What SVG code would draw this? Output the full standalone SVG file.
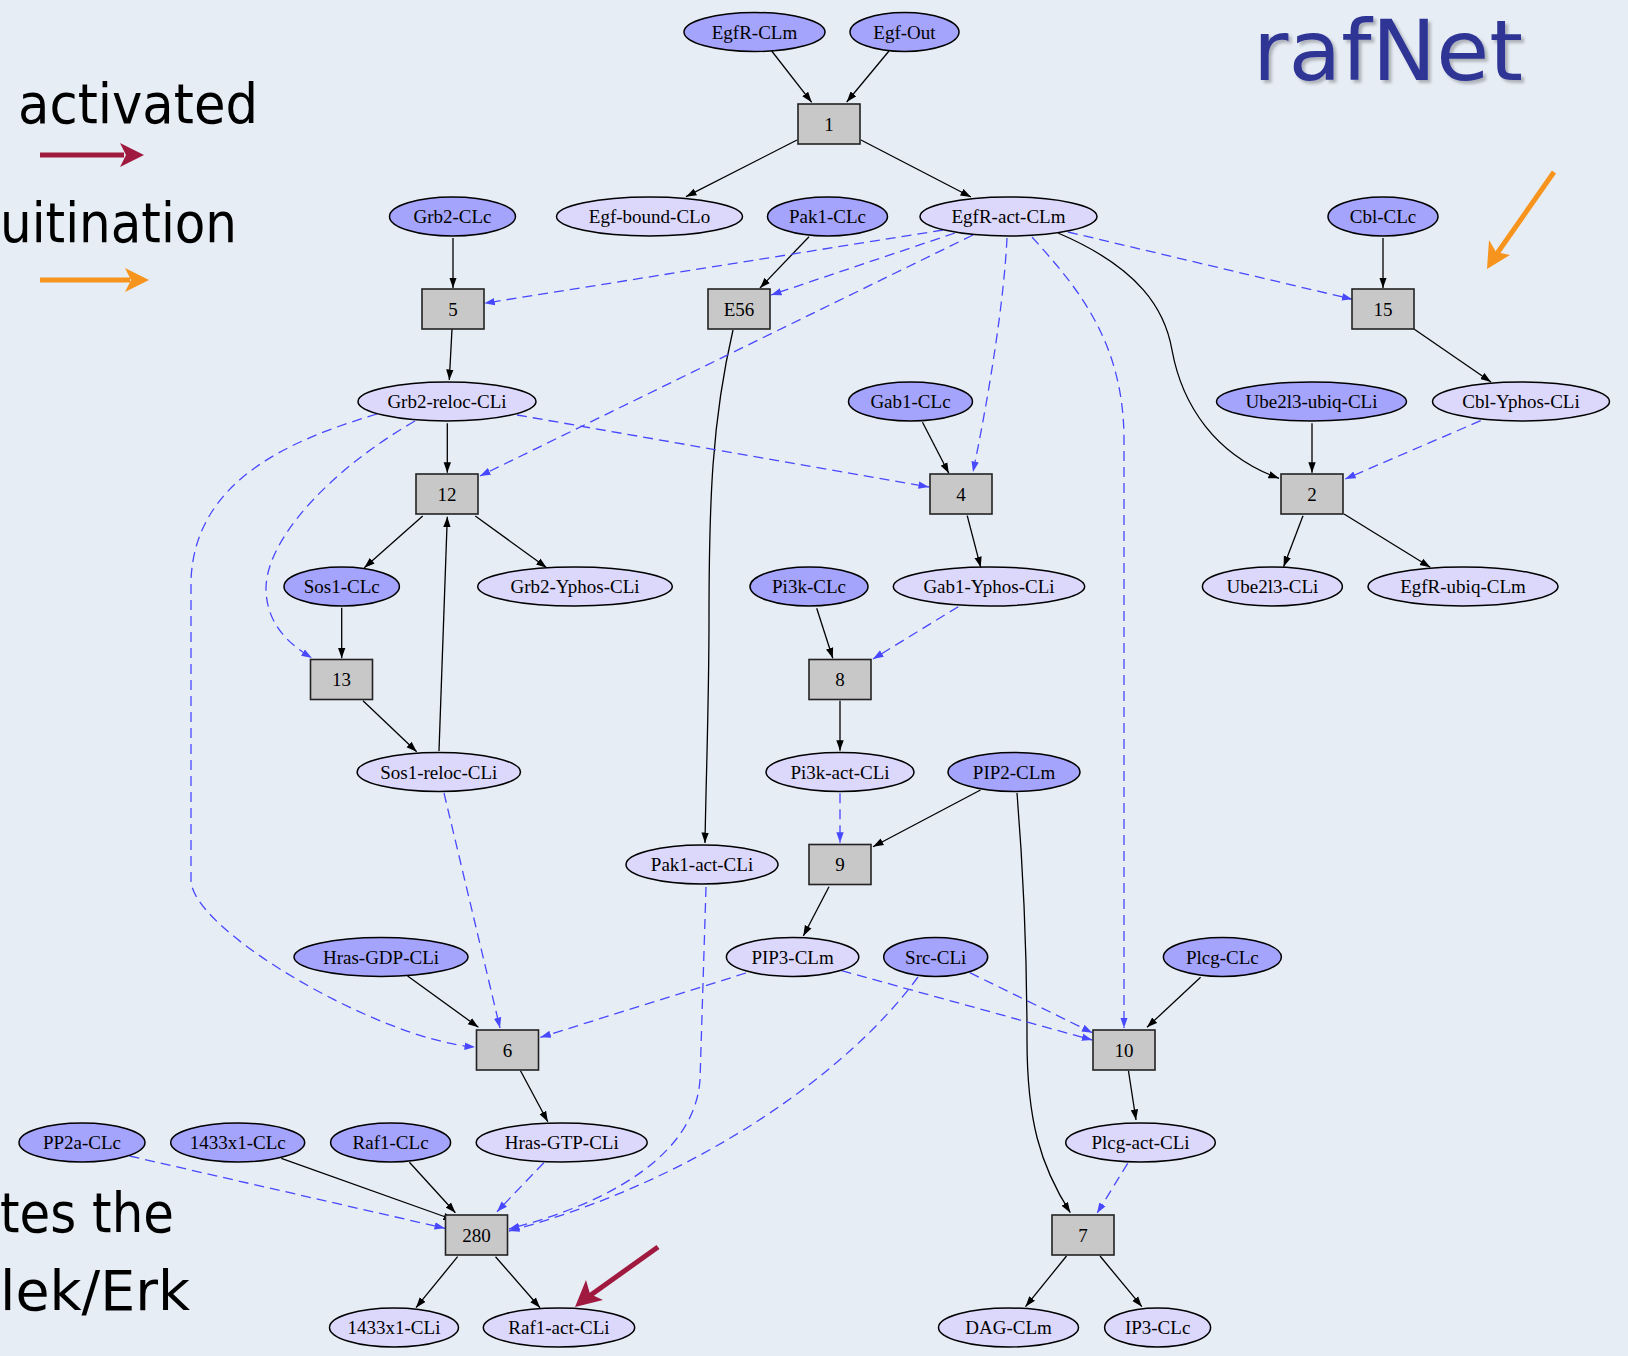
<svg xmlns="http://www.w3.org/2000/svg" width="1628" height="1356" viewBox="0 0 1628 1356">
<defs>
<marker id="ab" markerUnits="userSpaceOnUse" markerWidth="12" markerHeight="9" refX="10.5" refY="4" orient="auto"><path d="M0,0.3 L10.5,4 L0,7.7 z" fill="#000"/></marker>
<marker id="au" markerUnits="userSpaceOnUse" markerWidth="12" markerHeight="9" refX="10.5" refY="4" orient="auto"><path d="M0,0.3 L10.5,4 L0,7.7 z" fill="#4848ff"/></marker>
<filter id="sh" x="-5%" y="-5%" width="115%" height="120%"><feDropShadow dx="3" dy="3" stdDeviation="1.5" flood-color="#000" flood-opacity="0.25"/></filter>
<style>
.e ellipse{stroke:#000;stroke-width:1.5}
.dk ellipse{fill:#a4a4fc}
.lt ellipse{fill:#dcd8fc}
.b rect{fill:#c8c8c8;stroke:#222;stroke-width:1.6}
.e text,.b text{font-family:"Liberation Serif","Times New Roman",serif;font-size:19px;fill:#000;text-anchor:middle}
.s{fill:none;stroke:#000;stroke-width:1.3;marker-end:url(#ab)}
.d{fill:none;stroke:#4848ff;stroke-width:1.3;stroke-dasharray:10,6;marker-end:url(#au)}
.big{font-family:"Comic Sans MS","DejaVu Sans",sans-serif;font-size:56px;fill:#000}
</style>
</defs>
<rect width="1628" height="1356" fill="#e7edf5"/>

<g id="legend">
<text class="big" x="18" y="123" textLength="240" lengthAdjust="spacingAndGlyphs">activated</text>
<line x1="40" y1="155" x2="124" y2="155" stroke="#a01a40" stroke-width="5"/>
<polygon points="120,143 144,155 120,167 126,155" fill="#a01a40"/>
<text class="big" x="0" y="242" textLength="237" lengthAdjust="spacingAndGlyphs">uitination</text>
<line x1="40" y1="280" x2="130" y2="280" stroke="#f7941d" stroke-width="5"/>
<polygon points="125,268 149,280 125,292 131,280" fill="#f7941d"/>
<text class="big" x="0" y="1232" textLength="174" lengthAdjust="spacingAndGlyphs">tes the</text>
<text class="big" x="0" y="1310" textLength="190" lengthAdjust="spacingAndGlyphs">lek/Erk</text>
</g>
<g id="title">
<text x="1253" y="80" font-family="'Comic Sans MS','DejaVu Sans',sans-serif" font-size="84" fill="#2e3494" filter="url(#sh)" textLength="270" lengthAdjust="spacingAndGlyphs">rafNet</text>
</g>
<g id="callouts">
<line x1="1554" y1="172" x2="1496" y2="255" stroke="#f7941d" stroke-width="5"/>
<polygon points="1487,269 1489,240 1496,252 1510,255" fill="#f7941d"/>
<line x1="658" y1="1247" x2="588" y2="1297" stroke="#a01a40" stroke-width="5"/>
<polygon points="575,1307 586,1280 590,1294 603,1300" fill="#a01a40"/>
</g>

<g id="connectors">
<path class="s" d="M771.7,51 L811.7,102.3"/>
<path class="s" d="M889,51 L846.7,102"/>
<path class="s" d="M797,140 L686,196.7"/>
<path class="s" d="M861,140 L971,197"/>
<path class="s" d="M453,238 L453,288"/>
<path class="s" d="M809,236.7 L760,288"/>
<path class="s" d="M1383,238 L1383,288"/>
<path class="s" d="M452,329 L449.3,380"/>
<path class="s" d="M733,330 C712,420 709,500 709,620 C709,700 706,780 705,843"/>
<path class="s" d="M447.3,423.3 L447.3,472.7"/>
<path class="s" d="M422.7,516 L364.3,567.7"/>
<path class="s" d="M475.3,516 L546.7,567.7"/>
<path class="s" d="M341.7,607.7 L341.7,658.3"/>
<path class="s" d="M363,700.7 L416.7,751.7"/>
<path class="s" d="M439,751 L447.3,516.7"/>
<path class="s" d="M922.5,422.3 L948.8,473.3"/>
<path class="s" d="M967.2,515.7 L980.7,567.3"/>
<path class="s" d="M1058,233 C1140,268 1165,310 1172,350 C1182,405 1215,455 1279,478.3"/>
<path class="s" d="M1312,423.3 L1312,472.7"/>
<path class="s" d="M1414,329 L1491,382"/>
<path class="s" d="M1303,515.7 L1283.6,566.7"/>
<path class="s" d="M1344,514 L1430.3,567.3"/>
<path class="s" d="M816.7,608.3 L832.8,658.3"/>
<path class="s" d="M840,700.7 L840,750.7"/>
<path class="s" d="M980.5,790 L873,846.7"/>
<path class="s" d="M829,886.7 L803.3,936"/>
<path class="s" d="M1017,793 C1024,880 1027,960 1027,1040 C1027,1120 1040,1165 1070.3,1212.7"/>
<path class="s" d="M1200.6,977.3 L1147,1027.3"/>
<path class="s" d="M1128.5,1071 L1136,1120"/>
<path class="s" d="M1066.5,1256 L1025.5,1306.7"/>
<path class="s" d="M1100,1256 L1141.9,1306.7"/>
<path class="s" d="M407.6,976 L478.4,1027.3"/>
<path class="s" d="M520.5,1070.7 L547.8,1121.7"/>
<path class="s" d="M281.3,1158.3 L454,1220"/>
<path class="s" d="M409.4,1162.3 L455.4,1212.7"/>
<path class="s" d="M457.6,1256.7 L416,1307.7"/>
<path class="s" d="M495.5,1256.7 L540,1307.7"/>

<path class="d" d="M943,230 L484.3,303.3"/>
<path class="d" d="M955,233 L771,295"/>
<path class="d" d="M973,235 L480,476"/>
<path class="d" d="M1007,238 C1004,300 990,390 973,472"/>
<path class="d" d="M1032,237 C1075,285 1124,340 1124,440 L1124,1028"/>
<path class="d" d="M1068,232 L1352.4,299.3"/>
<path class="d" d="M517,415 L929,487"/>
<path class="d" d="M377,414 C290,440 195,480 191,580 L191,880 C191,930 380,1040 475,1047"/>
<path class="d" d="M415,421 C330,470 265,540 266,590 C267,625 290,645 312,658"/>
<path class="d" d="M444,793 L500,1028"/>
<path class="d" d="M746,973 L540.4,1037.3"/>
<path class="d" d="M841.6,970.7 L1092.3,1040"/>
<path class="d" d="M969.8,972.7 L1092.3,1032.7"/>
<path class="d" d="M918,977 C850,1070 700,1180 509,1231"/>
<path class="d" d="M706,887 L700,1080 C695,1150 620,1200 509,1229"/>
<path class="d" d="M543.8,1162.7 L497,1211.7"/>
<path class="d" d="M129.5,1156 L445,1228.3"/>
<path class="d" d="M1480.7,420.7 L1345.2,479"/>
<path class="d" d="M958.3,606.7 L873,659"/>
<path class="d" d="M840,793.3 L840,842.7"/>
<path class="d" d="M1127.7,1163.3 L1097,1213.3"/>
</g>

<g id="n-EgfR-CLm" class="e dk"><ellipse cx="754.5" cy="32" rx="70.5" ry="19.5"/><text x="754.5" y="38.5">EgfR-CLm</text></g>
<g id="n-Egf-Out" class="e dk"><ellipse cx="904.5" cy="32" rx="54.5" ry="19.5"/><text x="904.5" y="38.5">Egf-Out</text></g>
<g id="r-1" class="b"><rect x="798" y="104" width="62" height="40"/><text x="829" y="130.5">1</text></g>

<g id="n-Grb2-CLc" class="e dk"><ellipse cx="452.5" cy="216.5" rx="63" ry="19.5"/><text x="452.5" y="223">Grb2-CLc</text></g>
<g id="n-Egf-bound-CLo" class="e lt"><ellipse cx="649.5" cy="216.5" rx="93" ry="19.5"/><text x="649.5" y="223">Egf-bound-CLo</text></g>
<g id="n-Pak1-CLc" class="e dk"><ellipse cx="827.5" cy="216.5" rx="60" ry="19.5"/><text x="827.5" y="223">Pak1-CLc</text></g>
<g id="n-EgfR-act-CLm" class="e lt"><ellipse cx="1008.5" cy="216.5" rx="88.5" ry="19.5"/><text x="1008.5" y="223">EgfR-act-CLm</text></g>
<g id="n-Cbl-CLc" class="e dk"><ellipse cx="1383" cy="216.5" rx="55" ry="19.5"/><text x="1383" y="223">Cbl-CLc</text></g>

<g id="r-5" class="b"><rect x="422" y="289" width="62" height="40"/><text x="453" y="315.5">5</text></g>
<g id="r-E56" class="b"><rect x="708" y="289" width="62" height="40"/><text x="739" y="315.5">E56</text></g>
<g id="r-15" class="b"><rect x="1352" y="289" width="62" height="40"/><text x="1383" y="315.5">15</text></g>

<g id="n-Grb2-reloc-CLi" class="e lt"><ellipse cx="447" cy="401.5" rx="89" ry="19.5"/><text x="447" y="408">Grb2-reloc-CLi</text></g>
<g id="n-Gab1-CLc" class="e dk"><ellipse cx="910.5" cy="401.5" rx="62" ry="19.5"/><text x="910.5" y="408">Gab1-CLc</text></g>
<g id="n-Ube2l3-ubiq-CLi" class="e dk"><ellipse cx="1311.5" cy="401.5" rx="95" ry="19.5"/><text x="1311.5" y="408">Ube2l3-ubiq-CLi</text></g>
<g id="n-Cbl-Yphos-CLi" class="e lt"><ellipse cx="1521" cy="401.5" rx="88.5" ry="19.5"/><text x="1521" y="408">Cbl-Yphos-CLi</text></g>

<g id="r-12" class="b"><rect x="416" y="474" width="62" height="40"/><text x="447" y="500.5">12</text></g>
<g id="r-4" class="b"><rect x="930" y="474" width="62" height="40"/><text x="961" y="500.5">4</text></g>
<g id="r-2" class="b"><rect x="1281" y="474" width="62" height="40"/><text x="1312" y="500.5">2</text></g>

<g id="n-Sos1-CLc" class="e dk"><ellipse cx="341.7" cy="586.5" rx="57.7" ry="19.5"/><text x="341.7" y="593">Sos1-CLc</text></g>
<g id="n-Grb2-Yphos-CLi" class="e lt"><ellipse cx="575" cy="586.5" rx="97.3" ry="19.5"/><text x="575" y="593">Grb2-Yphos-CLi</text></g>
<g id="n-Pi3k-CLc" class="e dk"><ellipse cx="809" cy="586.5" rx="59" ry="19.5"/><text x="809" y="593">Pi3k-CLc</text></g>
<g id="n-Gab1-Yphos-CLi" class="e lt"><ellipse cx="989" cy="586.5" rx="95.7" ry="19.5"/><text x="989" y="593">Gab1-Yphos-CLi</text></g>
<g id="n-Ube2l3-CLi" class="e lt"><ellipse cx="1272.4" cy="586.5" rx="70" ry="19.5"/><text x="1272.4" y="593">Ube2l3-CLi</text></g>
<g id="n-EgfR-ubiq-CLm" class="e lt"><ellipse cx="1463" cy="586.5" rx="95" ry="19.5"/><text x="1463" y="593">EgfR-ubiq-CLm</text></g>

<g id="r-13" class="b"><rect x="310.5" y="659.5" width="62" height="40"/><text x="341.5" y="686">13</text></g>
<g id="r-8" class="b"><rect x="809" y="659.5" width="62" height="40"/><text x="840" y="686">8</text></g>

<g id="n-Sos1-reloc-CLi" class="e lt"><ellipse cx="438.8" cy="772" rx="81.7" ry="19.5"/><text x="438.8" y="778.5">Sos1-reloc-CLi</text></g>
<g id="n-Pi3k-act-CLi" class="e lt"><ellipse cx="840" cy="772" rx="74" ry="19.5"/><text x="840" y="778.5">Pi3k-act-CLi</text></g>
<g id="n-PIP2-CLm" class="e dk"><ellipse cx="1014" cy="772" rx="66" ry="19.5"/><text x="1014" y="778.5">PIP2-CLm</text></g>

<g id="n-Pak1-act-CLi" class="e lt"><ellipse cx="702" cy="864.5" rx="76" ry="19.5"/><text x="702" y="871">Pak1-act-CLi</text></g>
<g id="r-9" class="b"><rect x="809" y="844.5" width="62" height="40"/><text x="840" y="871">9</text></g>

<g id="n-Hras-GDP-CLi" class="e dk"><ellipse cx="381" cy="957" rx="87" ry="19.5"/><text x="381" y="963.5">Hras-GDP-CLi</text></g>
<g id="n-PIP3-CLm" class="e lt"><ellipse cx="792.6" cy="957" rx="66.2" ry="19.5"/><text x="792.6" y="963.5">PIP3-CLm</text></g>
<g id="n-Src-CLi" class="e dk"><ellipse cx="935.7" cy="957" rx="52" ry="19.5"/><text x="935.7" y="963.5">Src-CLi</text></g>
<g id="n-Plcg-CLc" class="e dk"><ellipse cx="1222.4" cy="957" rx="59" ry="19.5"/><text x="1222.4" y="963.5">Plcg-CLc</text></g>

<g id="r-6" class="b"><rect x="476.5" y="1030" width="62" height="40"/><text x="507.5" y="1056.5">6</text></g>
<g id="r-10" class="b"><rect x="1093" y="1030" width="62" height="40"/><text x="1124" y="1056.5">10</text></g>

<g id="n-PP2a-CLc" class="e dk"><ellipse cx="82" cy="1142.5" rx="63" ry="19.5"/><text x="82" y="1149">PP2a-CLc</text></g>
<g id="n-1433x1-CLc" class="e dk"><ellipse cx="237.7" cy="1142.5" rx="67" ry="19.5"/><text x="237.7" y="1149">1433x1-CLc</text></g>
<g id="n-Raf1-CLc" class="e dk"><ellipse cx="390.6" cy="1142.5" rx="60" ry="19.5"/><text x="390.6" y="1149">Raf1-CLc</text></g>
<g id="n-Hras-GTP-CLi" class="e lt"><ellipse cx="561.7" cy="1142.5" rx="85.5" ry="19.5"/><text x="561.7" y="1149">Hras-GTP-CLi</text></g>
<g id="n-Plcg-act-CLi" class="e lt"><ellipse cx="1140.5" cy="1142.5" rx="74.8" ry="19.5"/><text x="1140.5" y="1149">Plcg-act-CLi</text></g>

<g id="r-280" class="b"><rect x="445.5" y="1215" width="62" height="40"/><text x="476.5" y="1241.5">280</text></g>
<g id="r-7" class="b"><rect x="1052" y="1215" width="62" height="40"/><text x="1083" y="1241.5">7</text></g>

<g id="n-1433x1-CLi" class="e lt"><ellipse cx="394" cy="1327.5" rx="64.5" ry="19.5"/><text x="394" y="1334">1433x1-CLi</text></g>
<g id="n-Raf1-act-CLi" class="e lt"><ellipse cx="559" cy="1327.5" rx="75.7" ry="19.5"/><text x="559" y="1334">Raf1-act-CLi</text></g>
<g id="n-DAG-CLm" class="e lt"><ellipse cx="1008.5" cy="1327.5" rx="70" ry="19.5"/><text x="1008.5" y="1334">DAG-CLm</text></g>
<g id="n-IP3-CLc" class="e lt"><ellipse cx="1157.6" cy="1327.5" rx="53" ry="19.5"/><text x="1157.6" y="1334">IP3-CLc</text></g>
</svg>
